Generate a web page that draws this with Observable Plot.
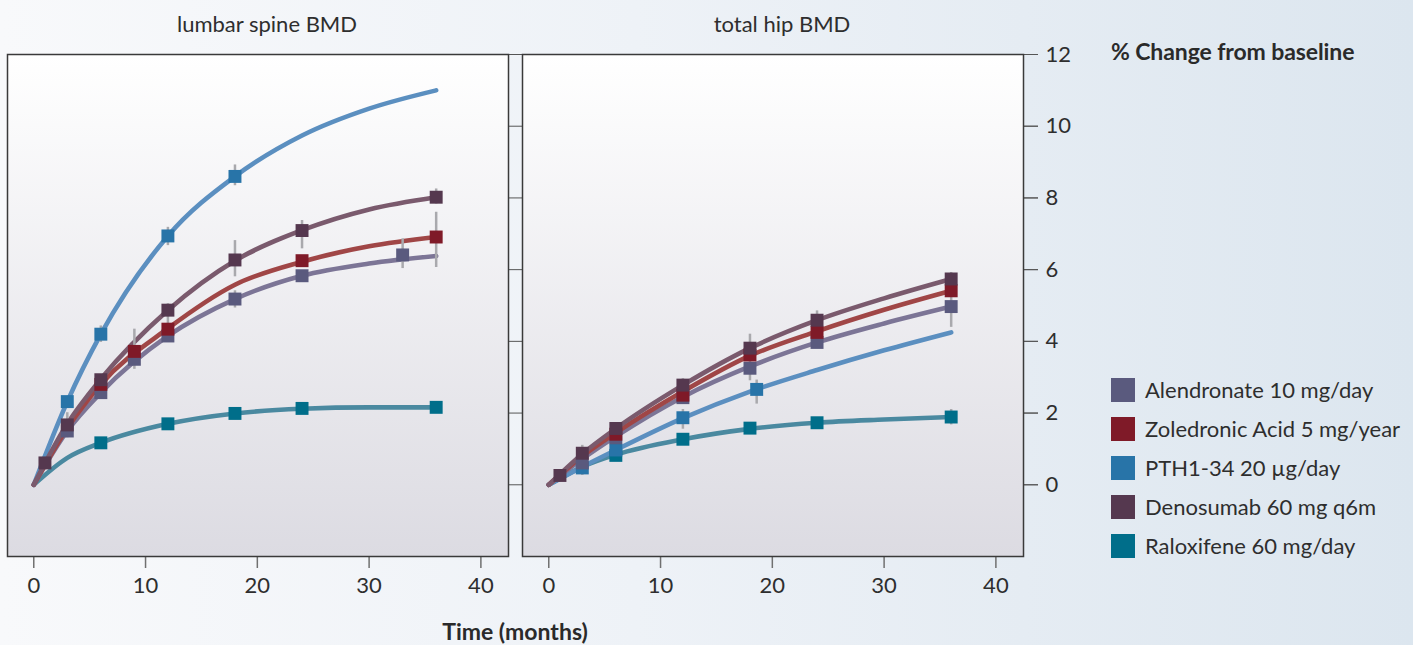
<!DOCTYPE html>
<html>
<head>
<meta charset="utf-8">
<script src="https://cdn.jsdelivr.net/npm/d3@7"></script>
<script src="https://cdn.jsdelivr.net/npm/@observablehq/plot@0.6"></script>
<style>
  body { margin: 0; font-family: Lato, "Open Sans", sans-serif; }
  #wrap { position: relative; width: 1413px; height: 645px; overflow: hidden;
    background: linear-gradient(90deg, #f8f9fb 0%, #eef2f7 45%, #dce6ef 100%); }
  #chart { position: absolute; left: 0; top: 0; }
  #ylab { position: absolute; left: 1111px; top: 37px; font-weight: 700; font-size: 23px; letter-spacing: -0.1px; color: #2a2a2a; white-space: nowrap; }
  #xlab { position: absolute; left: 0; width: 1030px; text-align: center; top: 617px; font-weight: 700; font-size: 23px; color: #2a2a2a; }
  #legend { position: absolute; left: 1111px; top: 370px; }
  .item { display: flex; align-items: center; height: 39px; font-size: 22px; color: #2e2e2e; white-space: nowrap; }
  .sw { width: 24px; height: 24px; margin-right: 10px; }
</style>
</head>
<body>
<svg width="0" height="0" style="position:absolute">
  <defs>
    <linearGradient id="panelGrad" x1="0" y1="0" x2="0" y2="1">
      <stop offset="0%" stop-color="#ffffff"/>
      <stop offset="100%" stop-color="#dcdbe2"/>
    </linearGradient>
  </defs>
</svg>
<div id="wrap">
  <div id="chart"></div>
  <div id="ylab">% Change from baseline</div>
  <div id="legend"></div>
  <div id="xlab">Time (months)</div>
</div>
<script>
// ---- categories ----
const panels = ["lumbar spine BMD", "total hip BMD"];
const seriesNames = ["Alendronate 10 mg/day", "Zoledronic Acid 5 mg/year", "PTH1-34 20 µg/day", "Denosumab 60 mg q6m", "Raloxifene 60 mg/day"];
const markerColors = ["#5a5a7e", "#7f1a28", "#2874a8", "#55384f", "#006e8a"];
const lineColors = ["#7c7596", "#a04646", "#5b8fc0", "#7a5a6d", "#4a89a0"];

// ---- tick labels ----
const xTicks = [0, 10, 20, 30, 40];
const yTicks = [0, 2, 4, 6, 8, 10, 12];

// ---- fitted curves ----
const curveMonths = [0, 3, 6, 12, 18, 24, 30, 36];
const spineAlendronateCurve = [0, 1.5, 2.57, 4.15, 5.18, 5.83, 6.17, 6.38];
const spineZoledronicCurve  = [0, 1.58, 2.8, 4.36, 5.58, 6.22, 6.65, 6.91];
const spinePTHCurve         = [0, 2.32, 4.2, 6.94, 8.6, 9.74, 10.49, 11.0];
const spineDenosumabCurve   = [0, 1.7, 2.95, 4.87, 6.25, 7.1, 7.68, 8.02];
const spineRaloxifeneCurve  = [0, 0.75, 1.17, 1.7, 1.99, 2.12, 2.16, 2.16];
const hipAlendronateCurve   = [0, 0.72, 1.35, 2.45, 3.3, 3.97, 4.5, 4.97];
const hipZoledronicCurve    = [0, 0.8, 1.45, 2.6, 3.6, 4.28, 4.88, 5.41];
const hipPTHCurve           = [0, 0.5, 0.97, 1.86, 2.6, 3.2, 3.75, 4.25];
const hipDenosumabCurve     = [0, 0.86, 1.57, 2.78, 3.81, 4.59, 5.2, 5.74];
const hipRaloxifeneCurve    = [0, 0.5, 0.84, 1.27, 1.56, 1.73, 1.82, 1.89];

// ---- measured points (markers) ----
const spineAlendronateMonths = [3, 6, 9, 12, 18, 24, 33];
const spineAlendronateValues = [1.5, 2.57, 3.5, 4.15, 5.18, 5.83, 6.41];
const spineZoledronicMonths = [6, 9, 12, 24, 36];
const spineZoledronicValues = [2.8, 3.72, 4.34, 6.25, 6.91];
const spinePTHMonths = [3, 6, 12, 18];
const spinePTHValues = [2.32, 4.2, 6.94, 8.6];
const spineDenosumabMonths = [1, 3, 6, 12, 18, 24, 36];
const spineDenosumabValues = [0.61, 1.67, 2.93, 4.87, 6.27, 7.09, 8.02];
const spineRaloxifeneMonths = [6, 12, 18, 24, 36];
const spineRaloxifeneValues = [1.17, 1.7, 1.99, 2.13, 2.16];

const hipAlendronateMonths = [3, 6, 12, 18, 24, 36];
const hipAlendronateValues = [0.61, 1.31, 2.43, 3.25, 3.97, 4.97];
const hipZoledronicMonths = [6, 12, 18, 24, 36];
const hipZoledronicValues = [1.41, 2.5, 3.62, 4.25, 5.41];
const hipPTHMonths = [3, 6, 12, 18.6];
const hipPTHValues = [0.47, 0.97, 1.87, 2.66];
const hipDenosumabMonths = [1, 3, 6, 12, 18, 24, 36];
const hipDenosumabValues = [0.26, 0.88, 1.57, 2.78, 3.81, 4.59, 5.74];
const hipRaloxifeneMonths = [6, 12, 18, 24, 36];
const hipRaloxifeneValues = [0.82, 1.27, 1.58, 1.73, 1.89];

// ---- error bars ----
const spineErrMonths = [3, 6, 9, 12, 12, 18, 18, 18, 24, 33, 36, 36];
const spineErrLow    = [1.31, 3.97, 3.22, 4.0, 6.67, 8.34, 5.8, 4.93, 6.58, 6.03, 6.06, 7.83];
const spineErrHigh   = [2.01, 4.43, 4.34, 5.05, 7.18, 8.92, 6.81, 5.41, 7.37, 6.86, 7.6, 8.25];
const hipErrMonths = [3, 12, 12, 18, 18.6, 24, 36, 36];
const hipErrLow    = [0.26, 1.55, 2.8, 2.9, 2.25, 4.48, 4.39, 1.67];
const hipErrHigh   = [1.1, 2.1, 2.96, 4.2, 2.92, 4.85, 5.92, 2.1];

// ---- build tables ----
const curveSets = [
  [spineAlendronateCurve, spineZoledronicCurve, spinePTHCurve, spineDenosumabCurve, spineRaloxifeneCurve],
  [hipAlendronateCurve, hipZoledronicCurve, hipPTHCurve, hipDenosumabCurve, hipRaloxifeneCurve]
];
const markerSets = [
  [[spineAlendronateMonths, spineAlendronateValues], [spineZoledronicMonths, spineZoledronicValues], [spinePTHMonths, spinePTHValues], [spineDenosumabMonths, spineDenosumabValues], [spineRaloxifeneMonths, spineRaloxifeneValues]],
  [[hipAlendronateMonths, hipAlendronateValues], [hipZoledronicMonths, hipZoledronicValues], [hipPTHMonths, hipPTHValues], [hipDenosumabMonths, hipDenosumabValues], [hipRaloxifeneMonths, hipRaloxifeneValues]]
];
const errSets = [[spineErrMonths, spineErrLow, spineErrHigh], [hipErrMonths, hipErrLow, hipErrHigh]];

const lineRows = [], markerRows = [], errRows = [];
// drawing order: raloxifene, PTH, alendronate, zoledronic, denosumab
const order = [4, 2, 0, 1, 3];
panels.forEach((p, pi) => {
  order.forEach(si => {
    curveSets[pi][si].forEach((v, i) => lineRows.push({panel: p, series: seriesNames[si], month: curveMonths[i], value: v, color: lineColors[si]}));
    const [ms, vs] = markerSets[pi][si];
    ms.forEach((m, i) => markerRows.push({panel: p, series: seriesNames[si], month: m, value: vs[i], color: markerColors[si]}));
  });
  const [em, el, eh] = errSets[pi];
  em.forEach((m, i) => errRows.push({panel: p, month: m, lo: el[i], hi: eh[i]}));
});

const chart = Plot.plot({
  width: 1413,
  height: 645,
  marginLeft: 7,
  marginRight: 390,
  marginTop: 54,
  marginBottom: 89,
  style: {fontFamily: "Lato, sans-serif", fontSize: "22px", color: "#2e2e2e", background: "transparent", overflow: "visible"},
  fx: {domain: panels, paddingInner: 14 / 515, paddingOuter: 0, label: null},
  x: {domain: [-2.35, 42.47]},
  y: {domain: [-2, 12]},
  color: {type: "identity"},
  marks: [
    Plot.frame({fill: "url(#panelGrad)", stroke: null}),
    Plot.axisFx({anchor: "top", tickSize: 0, tickPadding: 23, dx: 9, fontSize: 22, label: null}),
    Plot.axisX({ticks: xTicks, tickSize: 12, tickPadding: 9, stroke: "#707070", strokeWidth: 1.5, fontSize: 22, label: null}),
    Plot.axisY({anchor: "right", ticks: yTicks, tickSize: 14, tickPadding: 8, stroke: "#555", fontSize: 22, label: null}),
    Plot.axisY({anchor: "right", ticks: yTicks, tickSize: 14, tickFormat: () => "", stroke: "#555", facetAnchor: null, label: null}),
    Plot.line(lineRows, {x: "month", y: "value", z: "series", fx: "panel", stroke: "color", strokeWidth: 4.6, curve: "monotone-x", strokeLinecap: "round"}),
    Plot.ruleX(errRows, {x: "month", y1: "lo", y2: "hi", fx: "panel", stroke: "#a9a9ad", strokeWidth: 2.5}),
    Plot.dot(markerRows, {x: "month", y: "value", fx: "panel", fill: "color", symbol: "square", r: 7.3, stroke: null}),
    Plot.frame({stroke: "#3a3a3a", strokeWidth: 1.5})
  ]
});
document.getElementById("chart").appendChild(chart);

const legend = document.getElementById("legend");
seriesNames.forEach((s, i) => {
  const item = document.createElement("div");
  item.className = "item";
  item.innerHTML = `<div class="sw" style="background:${markerColors[i]}"></div><span>${s}</span>`;
  legend.appendChild(item);
});
</script>
</body>
</html>
